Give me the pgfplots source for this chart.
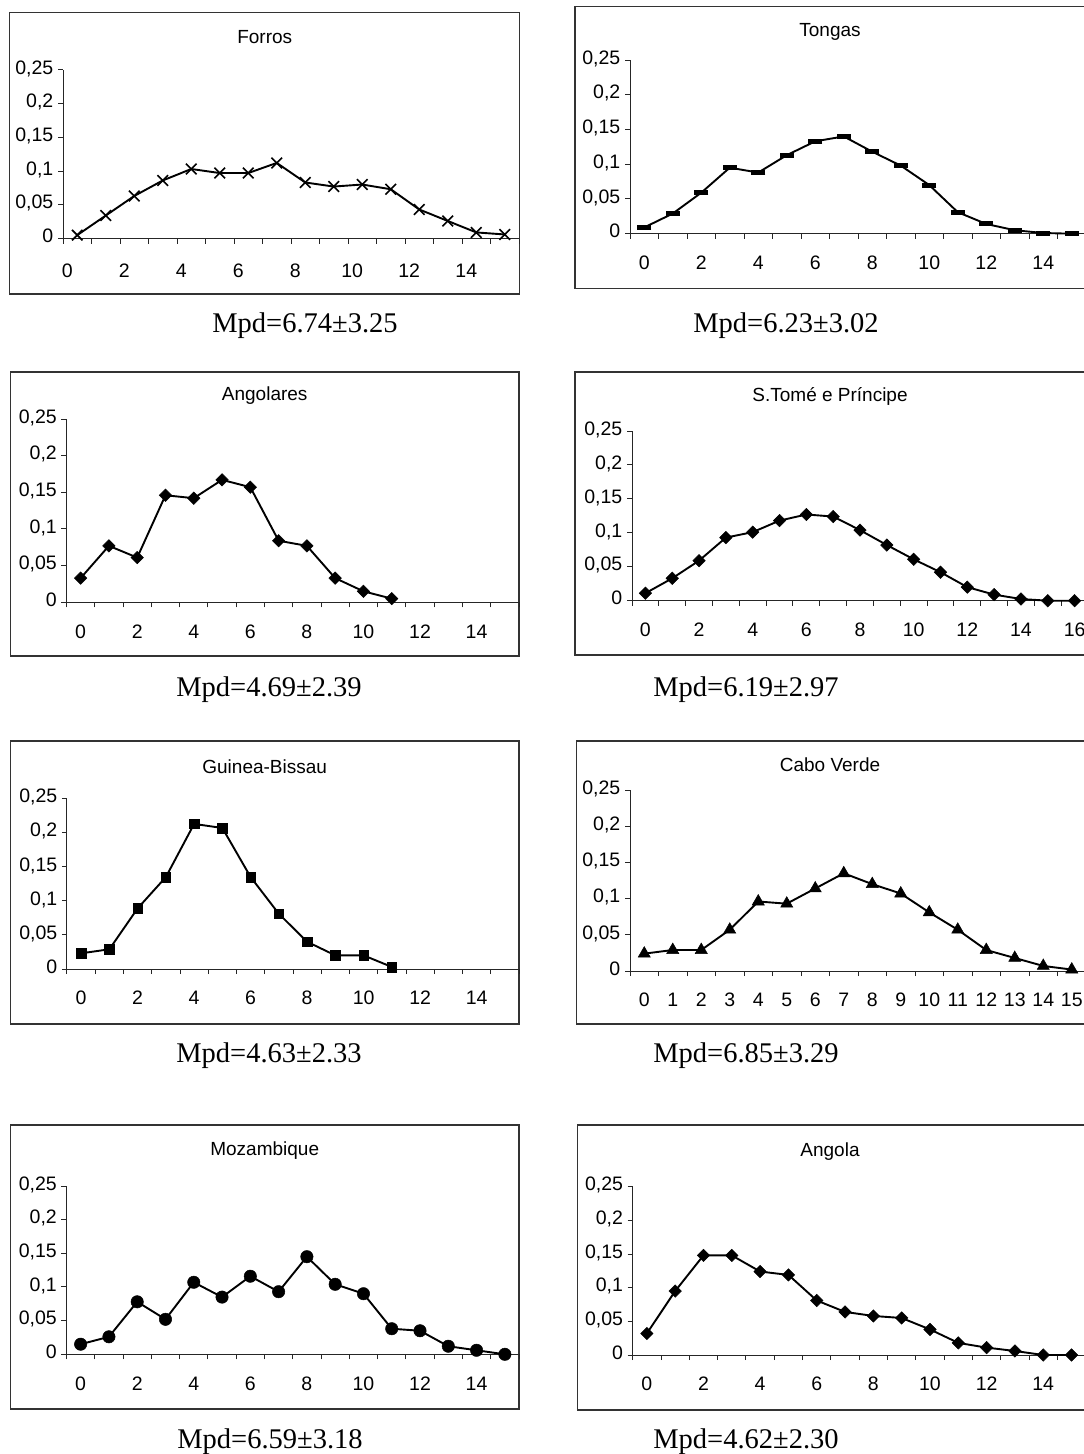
\documentclass[border=0pt]{standalone}
\usepackage{fontspec}
\setmainfont{Liberation Serif}
\newfontfamily\arial{Liberation Sans}
\usepackage{pgfplots}
\pgfplotsset{compat=1.18}

\newcommand\tickfont{\fontsize{19.5}{21}\selectfont\arial}
\newcommand\titlefont{\fontsize{19}{21}\selectfont\arial}
\newcommand\capfont{\fontsize{28.5}{32}\selectfont}

\pgfplotsset{
  panel/.style={
    scale only axis, anchor=south west, clip=false,
    axis x line*=bottom, axis y line*=left,
    axis line style={draw=black!85, line width=1pt},
    ymin=0, ymax=0.25,
    ytick={0,0.05,0.1,0.15,0.2,0.25},
    yticklabels={0,{0,05},{0,1},{0,15},{0,2},{0,25}},
    tick align=outside, major tick length=5pt,
    tick style={draw=black!85, line width=1pt},
    tick label style={font=\tickfont},
    typeset ticklabels with strut,
    yticklabel style={inner sep=0pt, xshift=-4.5pt},
    xticklabel style={inner sep=0pt, yshift=-21pt},
    xticklabels={},
    extra x tick style={major tick length=0pt},
  },
  ser/.style={black, line width=1.9pt, mark options={solid}},
}

\begin{document}
\begin{tikzpicture}
% frames
\begin{scope}[black!80, line width=1.2pt]
\draw (9.7pt,-12.3pt) rectangle (519.7pt,-294pt);
\draw (575pt,-6.7pt) rectangle (1085pt,-288.7pt);
\draw (10.3pt,-372pt) rectangle (519pt,-656pt);
\draw (575pt,-372pt) rectangle (1085pt,-655pt);
\draw (10.3pt,-741pt) rectangle (519pt,-1024pt);
\draw (576.5pt,-741pt) rectangle (1085pt,-1024pt);
\draw (10.3pt,-1125pt) rectangle (519pt,-1409pt);
\draw (577.5pt,-1125pt) rectangle (1085pt,-1410pt);
\end{scope}

% Forros
\begin{axis}[panel, at={(63pt,-238.5pt)}, width=456pt, height=168.7pt,
  xmin=-0.5, xmax=15.5, xtick={-0.5,0.5,...,15.5},
  extra x ticks={0,2,...,14}, extra x tick labels={0,2,4,6,8,10,12,14},
  xticklabel style={xshift=-10pt, yshift=-3pt}]
\addplot[ser, mark=x, mark size=7.5pt, mark options={line width=1.6pt}] coordinates {
(0,0.005) (1,0.034) (2,0.063) (3,0.086) (4,0.103) (5,0.097) (6,0.097) (7,0.112)
(8,0.083) (9,0.077) (10,0.080) (11,0.073) (12,0.043) (13,0.026) (14,0.009) (15,0.006)};
\end{axis}

% Tongas
\begin{axis}[panel, at={(630pt,-233.7pt)}, width=456pt, height=173.7pt,
  xmin=-0.5, xmax=15.5, xtick={-0.5,0.5,...,15.5},
  extra x ticks={0,2,...,14}, extra x tick labels={0,2,4,6,8,10,12,14}]
\addplot[ser, mark=-, mark size=7pt, mark options={line width=5pt}] coordinates {
(0,0.009) (1,0.029) (2,0.059) (3,0.095) (4,0.088) (5,0.113) (6,0.133) (7,0.140)
(8,0.118) (9,0.098) (10,0.070) (11,0.031) (12,0.014) (13,0.005) (14,0.001) (15,0.0)};
\end{axis}

% Angolares
\begin{axis}[panel, at={(66.5pt,-602.3pt)}, width=452.5pt, height=183.3pt,
  xmin=-0.5, xmax=15.5, xtick={-0.5,0.5,...,15.5},
  extra x ticks={0,2,...,14}, extra x tick labels={0,2,4,6,8,10,12,14}]
\addplot[ser, mark=square*, mark size=4.4pt, mark options={rotate=45, line width=0.5pt}] coordinates {
(0,0.033) (1,0.077) (2,0.061) (3,0.146) (4,0.142) (5,0.167) (6,0.157) (7,0.084)
(8,0.077) (9,0.033) (10,0.015) (11,0.005)};
\end{axis}

% S.Tome e Principe
\begin{axis}[panel, at={(632pt,-600.7pt)}, width=456pt, height=169.7pt,
  xmin=-0.5, xmax=16.5, xtick={-0.5,0.5,...,16.5},
  extra x ticks={0,2,...,16}, extra x tick labels={0,2,4,6,8,10,12,14,16}]
\addplot[ser, mark=square*, mark size=4.4pt, mark options={rotate=45, line width=0.5pt}] coordinates {
(0,0.011) (1,0.033) (2,0.059) (3,0.093) (4,0.101) (5,0.118) (6,0.127) (7,0.124)
(8,0.104) (9,0.082) (10,0.061) (11,0.042) (12,0.020) (13,0.009) (14,0.0025) (15,0.0) (16,0.0)};
\end{axis}

% Guinea-Bissau
\begin{axis}[panel, at={(67pt,-969pt)}, width=452pt, height=170.3pt,
  xmin=-0.5, xmax=15.5, xtick={-0.5,0.5,...,15.5},
  extra x ticks={0,2,...,14}, extra x tick labels={0,2,4,6,8,10,12,14}]
\addplot[ser, mark=square*, mark size=4.8pt, mark options={line width=0.5pt}] coordinates {
(0,0.023) (1,0.029) (2,0.089) (3,0.135) (4,0.213) (5,0.207) (6,0.135) (7,0.081)
(8,0.040) (9,0.020) (10,0.020) (11,0.003)};
\end{axis}

% Cabo Verde
\begin{axis}[panel, at={(630pt,-971pt)}, width=456pt, height=181pt,
  xmin=-0.5, xmax=15.5, xtick={-0.5,0.5,...,15.5},
  extra x ticks={0,1,...,15}, extra x tick labels={0,1,2,3,4,5,6,7,8,9,10,11,12,13,14,15}]
\addplot[ser, mark=triangle*, mark size=7pt, mark options={line width=0.5pt}] coordinates {
(0,0.024) (1,0.029) (2,0.029) (3,0.057) (4,0.096) (5,0.093) (6,0.114) (7,0.135)
(8,0.120) (9,0.107) (10,0.081) (11,0.057) (12,0.029) (13,0.018) (14,0.007) (15,0.002)};
\end{axis}

% Mozambique
\begin{axis}[panel, at={(66.5pt,-1354.3pt)}, width=452.5pt, height=168.3pt,
  xmin=-0.5, xmax=15.5, xtick={-0.5,0.5,...,15.5},
  extra x ticks={0,2,...,14}, extra x tick labels={0,2,4,6,8,10,12,14}]
\addplot[ser, mark=*, mark size=6.2pt, mark options={line width=0.5pt}] coordinates {
(0,0.015) (1,0.026) (2,0.078) (3,0.052) (4,0.107) (5,0.085) (6,0.116) (7,0.093)
(8,0.145) (9,0.104) (10,0.090) (11,0.038) (12,0.035) (13,0.012) (14,0.006) (15,0.0)};
\end{axis}

% Angola
\begin{axis}[panel, at={(632.7pt,-1355pt)}, width=453pt, height=168.3pt,
  xmin=-0.5, xmax=15.5, xtick={-0.5,0.5,...,15.5},
  extra x ticks={0,2,...,14}, extra x tick labels={0,2,4,6,8,10,12,14}]
\addplot[ser, mark=square*, mark size=4.4pt, mark options={rotate=45, line width=0.5pt}] coordinates {
(0,0.032) (1,0.095) (2,0.148) (3,0.148) (4,0.124) (5,0.119) (6,0.081) (7,0.064)
(8,0.058) (9,0.055) (10,0.038) (11,0.018) (12,0.011) (13,0.006) (14,0.0) (15,0.0)};
\end{axis}

% titles
\begin{scope}[font=\titlefont]
\node at (264.7pt,-37pt) {Forros};
\node at (830pt,-32pt) {Tongas};
\node at (264.7pt,-396pt) {Angolares};
\node at (830pt,-396pt) {S.Tomé e Príncipe};
\node at (264.7pt,-767pt) {Guinea-Bissau};
\node at (830pt,-765pt) {Cabo Verde};
\node at (264.7pt,-1151pt) {Mozambique};
\node at (830pt,-1152pt) {Angola};
\end{scope}

% captions
\begin{scope}[font=\capfont, inner sep=0pt]
\node[anchor=base] at (305pt,-332pt) {Mpd=6.74±3.25};
\node[anchor=base] at (786pt,-332pt) {Mpd=6.23±3.02};
\node[anchor=base] at (269pt,-696pt) {Mpd=4.69±2.39};
\node[anchor=base] at (746pt,-696pt) {Mpd=6.19±2.97};
\node[anchor=base] at (269pt,-1062pt) {Mpd=4.63±2.33};
\node[anchor=base] at (746pt,-1062pt) {Mpd=6.85±3.29};
\node[anchor=base] at (270pt,-1448pt) {Mpd=6.59±3.18};
\node[anchor=base] at (746pt,-1448pt) {Mpd=4.62±2.30};
\end{scope}

\pgfresetboundingbox
\useasboundingbox (0pt,0pt) rectangle (1084pt,-1454pt);
\end{tikzpicture}
\end{document}
